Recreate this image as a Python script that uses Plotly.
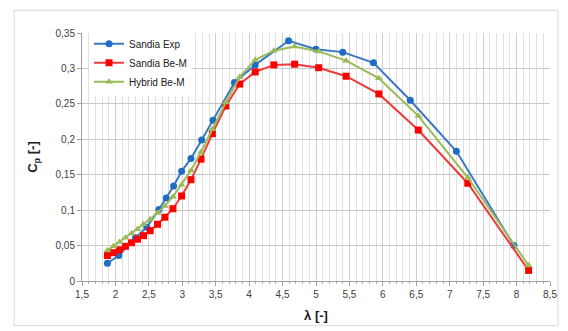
import plotly.graph_objects as go

# Data
exp_x = [1.88, 2.05, 2.30, 2.47, 2.65, 2.76, 2.87, 2.99, 3.13, 3.29, 3.46, 3.78, 4.09, 4.59, 5.00, 5.40, 5.86, 6.41, 7.10, 7.96]
exp_y = [0.025, 0.036, 0.061, 0.076, 0.101, 0.117, 0.134, 0.155, 0.173, 0.199, 0.227, 0.280, 0.305, 0.339, 0.327, 0.323, 0.308, 0.255, 0.183, 0.050]

bem_x = [1.88, 1.97, 2.06, 2.15, 2.24, 2.33, 2.42, 2.52, 2.63, 2.74, 2.86, 2.99, 3.13, 3.28, 3.45, 3.65, 3.86, 4.09, 4.37, 4.68, 5.04, 5.45, 5.94, 6.53, 7.27, 8.18]
bem_y = [0.036, 0.040, 0.044, 0.049, 0.054, 0.059, 0.064, 0.071, 0.080, 0.090, 0.102, 0.120, 0.143, 0.172, 0.208, 0.247, 0.278, 0.295, 0.305, 0.306, 0.301, 0.289, 0.264, 0.213, 0.138, 0.015]

hyb_x = bem_x
hyb_y = [0.043, 0.049, 0.055, 0.061, 0.067, 0.073, 0.080, 0.087, 0.096, 0.106, 0.119, 0.136, 0.156, 0.182, 0.214, 0.252, 0.288, 0.312, 0.325, 0.331, 0.324, 0.311, 0.286, 0.233, 0.146, 0.022]

names = ["Sandia Exp", "Sandia Be-M", "Hybrid Be-M"]

fig = go.Figure()
fig.add_trace(go.Scatter(x=exp_x, y=exp_y, name=names[0], mode="lines+markers",
                         line=dict(color="#3A78C2", width=2),
                         marker=dict(symbol="circle", size=7, color="#1F6CC4")))
fig.add_trace(go.Scatter(x=bem_x, y=bem_y, name=names[1], mode="lines+markers",
                         line=dict(color="#EE3B3B", width=2),
                         marker=dict(symbol="square", size=7, color="#FF0000")))
fig.add_trace(go.Scatter(x=hyb_x, y=hyb_y, name=names[2], mode="lines+markers",
                         line=dict(color="#9BBB59", width=2),
                         marker=dict(symbol="triangle-up", size=7, color="#9BBB59")))

font = "Liberation Sans, Arial, sans-serif"
fig.update_layout(
    width=568, height=331,
    margin=dict(l=82, r=11, t=33, b=48),
    paper_bgcolor="white", plot_bgcolor="white",
    separators=",.",
    font=dict(family=font, size=10, color="#404040"),
    showlegend=True,
    legend=dict(x=0.015, y=1.015, xanchor="left", yanchor="top",
                bgcolor="white", font=dict(size=10, color="#202020"),
                itemwidth=30, tracegroupgap=0, borderwidth=0),
    xaxis=dict(range=[1.5, 8.5], dtick=0.5, tick0=1.5,
               showline=True, linecolor="#A0A0A0", linewidth=1,
               ticks="outside", ticklen=4, tickcolor="#A0A0A0",
               ticklabeloverflow="allow",
               showgrid=True, gridcolor="#D0D0D0", gridwidth=1,
               minor=dict(dtick=0.1, showgrid=True, gridcolor="#E0E0E0",
                          ticks="outside", ticklen=2, tickcolor="#B0B0B0"),
               zeroline=False,
               title=dict(text="<b>λ [-]</b>", font=dict(size=13, color="#202020"), standoff=11)),
    yaxis=dict(range=[0, 0.35], dtick=0.05,
               showline=True, linecolor="#A0A0A0", linewidth=1,
               ticks="outside", ticklen=4, tickcolor="#A0A0A0",
               showgrid=True, gridcolor="#C8C8C8", gridwidth=1,
               zeroline=False,
               title=dict(text="<b>C<sub>p</sub> [-]</b>", font=dict(size=13, color="#202020"), standoff=14)),
    shapes=[dict(type="rect", xref="paper", yref="paper",
                 x0=-0.145, x1=1.017, y0=-0.18, y1=1.092,
                 line=dict(color="#DADADA", width=1), layer="below")],
)

fig.write_html("out.html",
               config={"displayModeBar": False},
               post_script="document.body.style.margin='0';document.body.style.overflow='hidden';")
